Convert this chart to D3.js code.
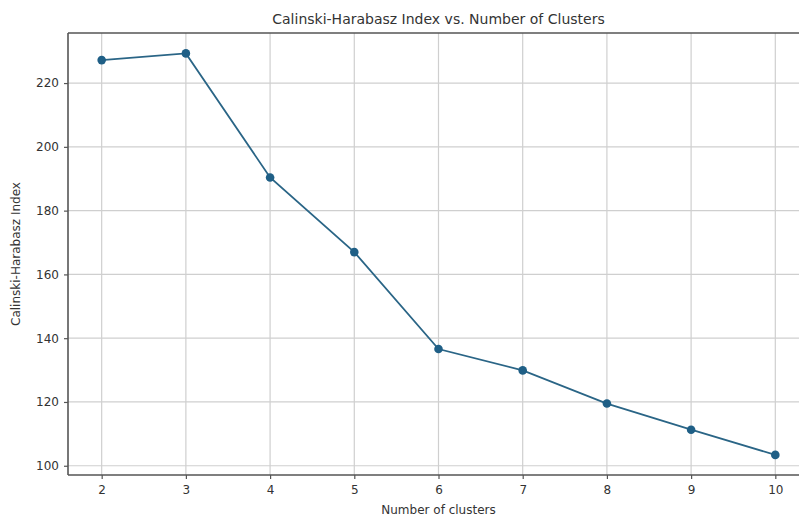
<!DOCTYPE html>
<html>
<head>
<meta charset="utf-8">
<script src="https://cdn.jsdelivr.net/npm/d3@7"></script>
<style>
  body { margin: 0; background: #fff; }
  svg { display: block; overflow: hidden; }
  text { font-family: "DejaVu Sans", sans-serif; fill: #333; }
</style>
</head>
<body>
<svg id="chart" width="799" height="520"></svg>
<script>
// data
var clusters = [2, 3, 4, 5, 6, 7, 8, 9, 10];
var chIndex = [227.2, 229.3, 190.4, 167.0, 136.6, 129.9, 119.5, 111.3, 103.4];
var yTicks = [100, 120, 140, 160, 180, 200, 220];

var svg = d3.select("#chart");

// axes box runs past the right edge of the picture (cropped)
var plotL = 68, plotR = 809, plotT = 33, plotB = 475;

var x = d3.scaleLinear().domain([1.6, 10.4]).range([plotL, plotR]);
var y = d3.scaleLinear().domain([97.1, 235.7]).range([plotB, plotT]);

// grid
svg.append("g").selectAll("line").data(clusters).enter().append("line")
  .attr("x1", d => x(d)).attr("x2", d => x(d))
  .attr("y1", plotT).attr("y2", plotB)
  .attr("stroke", "#cfcfcf").attr("stroke-width", 1.2);

svg.append("g").selectAll("line").data(yTicks).enter().append("line")
  .attr("x1", plotL).attr("x2", plotR)
  .attr("y1", d => y(d)).attr("y2", d => y(d))
  .attr("stroke", "#cfcfcf").attr("stroke-width", 1.2);

// axes
var xAxis = svg.append("g")
  .attr("transform", "translate(0," + plotB + ")")
  .call(d3.axisBottom(x).tickValues(clusters).tickSize(4).tickPadding(6));
var yAxis = svg.append("g")
  .attr("transform", "translate(" + plotL + ",0)")
  .call(d3.axisLeft(y).tickValues(yTicks).tickSize(4).tickPadding(5));

[xAxis, yAxis].forEach(function(a) {
  a.select(".domain").remove();
  a.selectAll(".tick line").attr("stroke", "#555").attr("stroke-width", 1.2);
  a.selectAll(".tick text")
    .style("font-family", "DejaVu Sans, sans-serif")
    .style("font-size", "12px")
    .attr("fill", "#333");
});

// spines
svg.append("line").attr("x1", plotL).attr("x2", plotL).attr("y1", plotT).attr("y2", plotB)
  .attr("stroke", "#555").attr("stroke-width", 1.6);
svg.append("line").attr("x1", plotL).attr("x2", plotR).attr("y1", plotB).attr("y2", plotB)
  .attr("stroke", "#555").attr("stroke-width", 1.6);
svg.append("line").attr("x1", plotL).attr("x2", plotR).attr("y1", plotT).attr("y2", plotT)
  .attr("stroke", "#555").attr("stroke-width", 1.6);

// line + markers
var line = d3.line().x((d, i) => x(clusters[i])).y(d => y(d));
svg.append("path").datum(chIndex)
  .attr("d", line)
  .attr("fill", "none")
  .attr("stroke", "#2a6586")
  .attr("stroke-width", 1.8);

svg.append("g").selectAll("circle").data(chIndex).enter().append("circle")
  .attr("cx", (d, i) => x(clusters[i]))
  .attr("cy", d => y(d))
  .attr("r", 4.3)
  .attr("fill", "#1f5f86");

// labels
svg.append("text")
  .attr("x", (plotL + plotR) / 2).attr("y", 24)
  .attr("text-anchor", "middle")
  .style("font-size", "14px")
  .text("Calinski-Harabasz Index vs. Number of Clusters");

svg.append("text")
  .attr("x", (plotL + plotR) / 2).attr("y", 514)
  .attr("text-anchor", "middle")
  .style("font-size", "12px")
  .text("Number of clusters");

svg.append("text")
  .attr("transform", "translate(20," + (plotT + plotB) / 2 + ") rotate(-90)")
  .attr("text-anchor", "middle")
  .style("font-size", "12px")
  .text("Calinski-Harabasz Index");
</script>
</body>
</html>
